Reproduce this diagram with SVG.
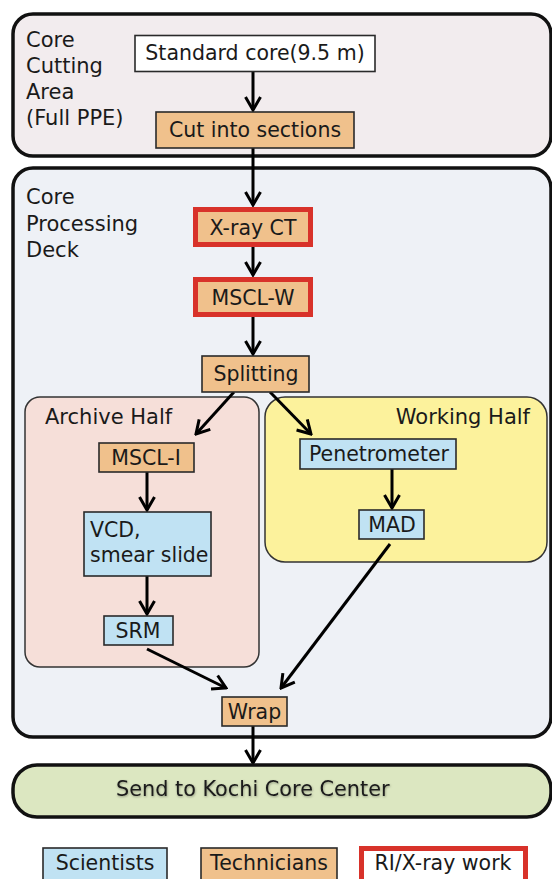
<svg xmlns="http://www.w3.org/2000/svg" width="552" height="879" viewBox="0 0 552 879">
  <defs>
    <style>
      text { font-family: "DejaVu Sans", "Liberation Sans", sans-serif; font-size: 20.5px; fill: #1a1a1a; }
      .mid { text-anchor: middle; }
      .lbl { font-size: 21px; }
      .area { stroke: #111; stroke-width: 3.5; }
      .half { stroke: #333; stroke-width: 1.5; }
      .box { stroke: #2a2a2a; stroke-width: 1.6; }
      .tech { fill: #f0c18c; }
      .sci { fill: #c0e2f3; }
      .rix { stroke: #d8322a; stroke-width: 5; }
      .conn { stroke: #000; stroke-width: 3; fill: none; marker-end: url(#arrow); }
    </style>
    <marker id="arrow" viewBox="-15 -10 17 20" markerWidth="17" markerHeight="20" refX="0" refY="0" orient="auto" markerUnits="userSpaceOnUse">
      <path d="M-13,-7.5 L0,0 L-13,7.5" fill="none" stroke="#000" stroke-width="3"/>
    </marker>
    <filter id="soft" x="-5%" y="-30%" width="110%" height="160%">
      <feDropShadow dx="0.5" dy="1" stdDeviation="1" flood-color="#000" flood-opacity="0.35"/>
    </filter>
  </defs>

  <rect width="552" height="879" fill="#ffffff"/>

  <!-- Areas -->
  <g id="core-cutting-area">
    <rect class="area" x="13" y="14" width="538" height="142" rx="20" fill="#f2ecee"/>
    <text class="lbl" x="26" y="47">Core</text>
    <text class="lbl" x="26" y="73">Cutting</text>
    <text class="lbl" x="26" y="99">Area</text>
    <text class="lbl" x="26" y="125">(Full PPE)</text>
  </g>
  <g id="core-processing-deck">
    <rect class="area" x="13" y="168" width="538" height="569" rx="20" fill="#eef1f6"/>
    <text class="lbl" x="26" y="204">Core</text>
    <text class="lbl" x="26" y="231">Processing</text>
    <text class="lbl" x="26" y="257">Deck</text>
  </g>
  <g id="archive-half">
    <rect class="half" x="25" y="397" width="234" height="270" rx="15" fill="#f6dfd9"/>
    <text class="lbl" x="45" y="424">Archive Half</text>
  </g>
  <g id="working-half">
    <rect class="half" x="265" y="397" width="282" height="165" rx="20" fill="#fcf29c"/>
    <text class="lbl" x="530" y="424" text-anchor="end">Working Half</text>
  </g>

  <!-- Connectors -->
  <g id="connectors">
    <line class="conn" x1="253" y1="72" x2="253" y2="110"/>
    <line class="conn" x1="253" y1="148" x2="253" y2="205"/>
    <line class="conn" x1="253" y1="247" x2="253" y2="275"/>
    <line class="conn" x1="253" y1="317" x2="253" y2="354"/>
    <line class="conn" x1="234" y1="392" x2="196" y2="434"/>
    <line class="conn" x1="270" y1="392" x2="311" y2="434"/>
    <line class="conn" x1="147" y1="472" x2="147" y2="510"/>
    <line class="conn" x1="147" y1="576" x2="147" y2="614"/>
    <line class="conn" x1="392" y1="469" x2="392" y2="508"/>
    <line class="conn" x1="147" y1="649" x2="226" y2="688"/>
    <line class="conn" x1="390" y1="544" x2="281" y2="688"/>
    <line class="conn" x1="253" y1="726" x2="253" y2="763"/>
  </g>

  <!-- Nodes -->
  <g id="standard-core">
    <rect class="box" x="135" y="35.5" width="240" height="36" fill="#ffffff"/>
    <text class="mid" x="255" y="60">Standard core(9.5 m)</text>
  </g>
  <g id="cut-into-sections">
    <rect class="box tech" x="156" y="112" width="198" height="36"/>
    <text class="mid" x="255" y="137">Cut into sections</text>
  </g>
  <g id="xray-ct">
    <rect class="rix tech" x="195.5" y="209.5" width="115" height="35"/>
    <text class="mid" x="253" y="234.5">X-ray CT</text>
  </g>
  <g id="mscl-w">
    <rect class="rix tech" x="195.5" y="279.5" width="115" height="35"/>
    <text class="mid" x="253" y="304.5">MSCL-W</text>
  </g>
  <g id="splitting">
    <rect class="box tech" x="202" y="356" width="107" height="36"/>
    <text class="mid" x="256" y="381">Splitting</text>
  </g>
  <g id="mscl-i">
    <rect class="box tech" x="99" y="443" width="95" height="29"/>
    <text class="mid" x="146" y="465">MSCL-I</text>
  </g>
  <g id="vcd-smear-slide">
    <rect class="box sci" x="84" y="512" width="127" height="64"/>
    <text x="90" y="537">VCD,</text>
    <text x="90" y="562">smear slide</text>
  </g>
  <g id="srm">
    <rect class="box sci" x="104" y="616" width="69" height="29"/>
    <text class="mid" x="138" y="638">SRM</text>
  </g>
  <g id="penetrometer">
    <rect class="box sci" x="300" y="439" width="156" height="30"/>
    <text class="mid" x="379" y="461">Penetrometer</text>
  </g>
  <g id="mad">
    <rect class="box sci" x="359" y="510" width="65" height="29"/>
    <text class="mid" x="392" y="532">MAD</text>
  </g>
  <g id="wrap">
    <rect class="box tech" x="222" y="697" width="65" height="29"/>
    <text class="mid" x="254.5" y="719">Wrap</text>
  </g>
  <g id="send-to-kochi">
    <rect class="area" x="13" y="765" width="538" height="52" rx="24" fill="#dce7c1"/>
    <text x="116" y="796" filter="url(#soft)" style="font-size:20.8px">Send to Kochi Core Center</text>
  </g>

  <!-- Legend -->
  <g id="legend-scientists">
    <rect class="box sci" x="43" y="848" width="124" height="45"/>
    <text class="mid" x="105" y="870">Scientists</text>
  </g>
  <g id="legend-technicians">
    <rect class="box tech" x="201" y="848" width="136" height="45"/>
    <text class="mid" x="269" y="870">Technicians</text>
  </g>
  <g id="legend-rix">
    <rect class="rix" x="361.5" y="848.5" width="164" height="45" fill="#ffffff"/>
    <text class="mid" x="443" y="870">RI/X-ray work</text>
  </g>
</svg>
